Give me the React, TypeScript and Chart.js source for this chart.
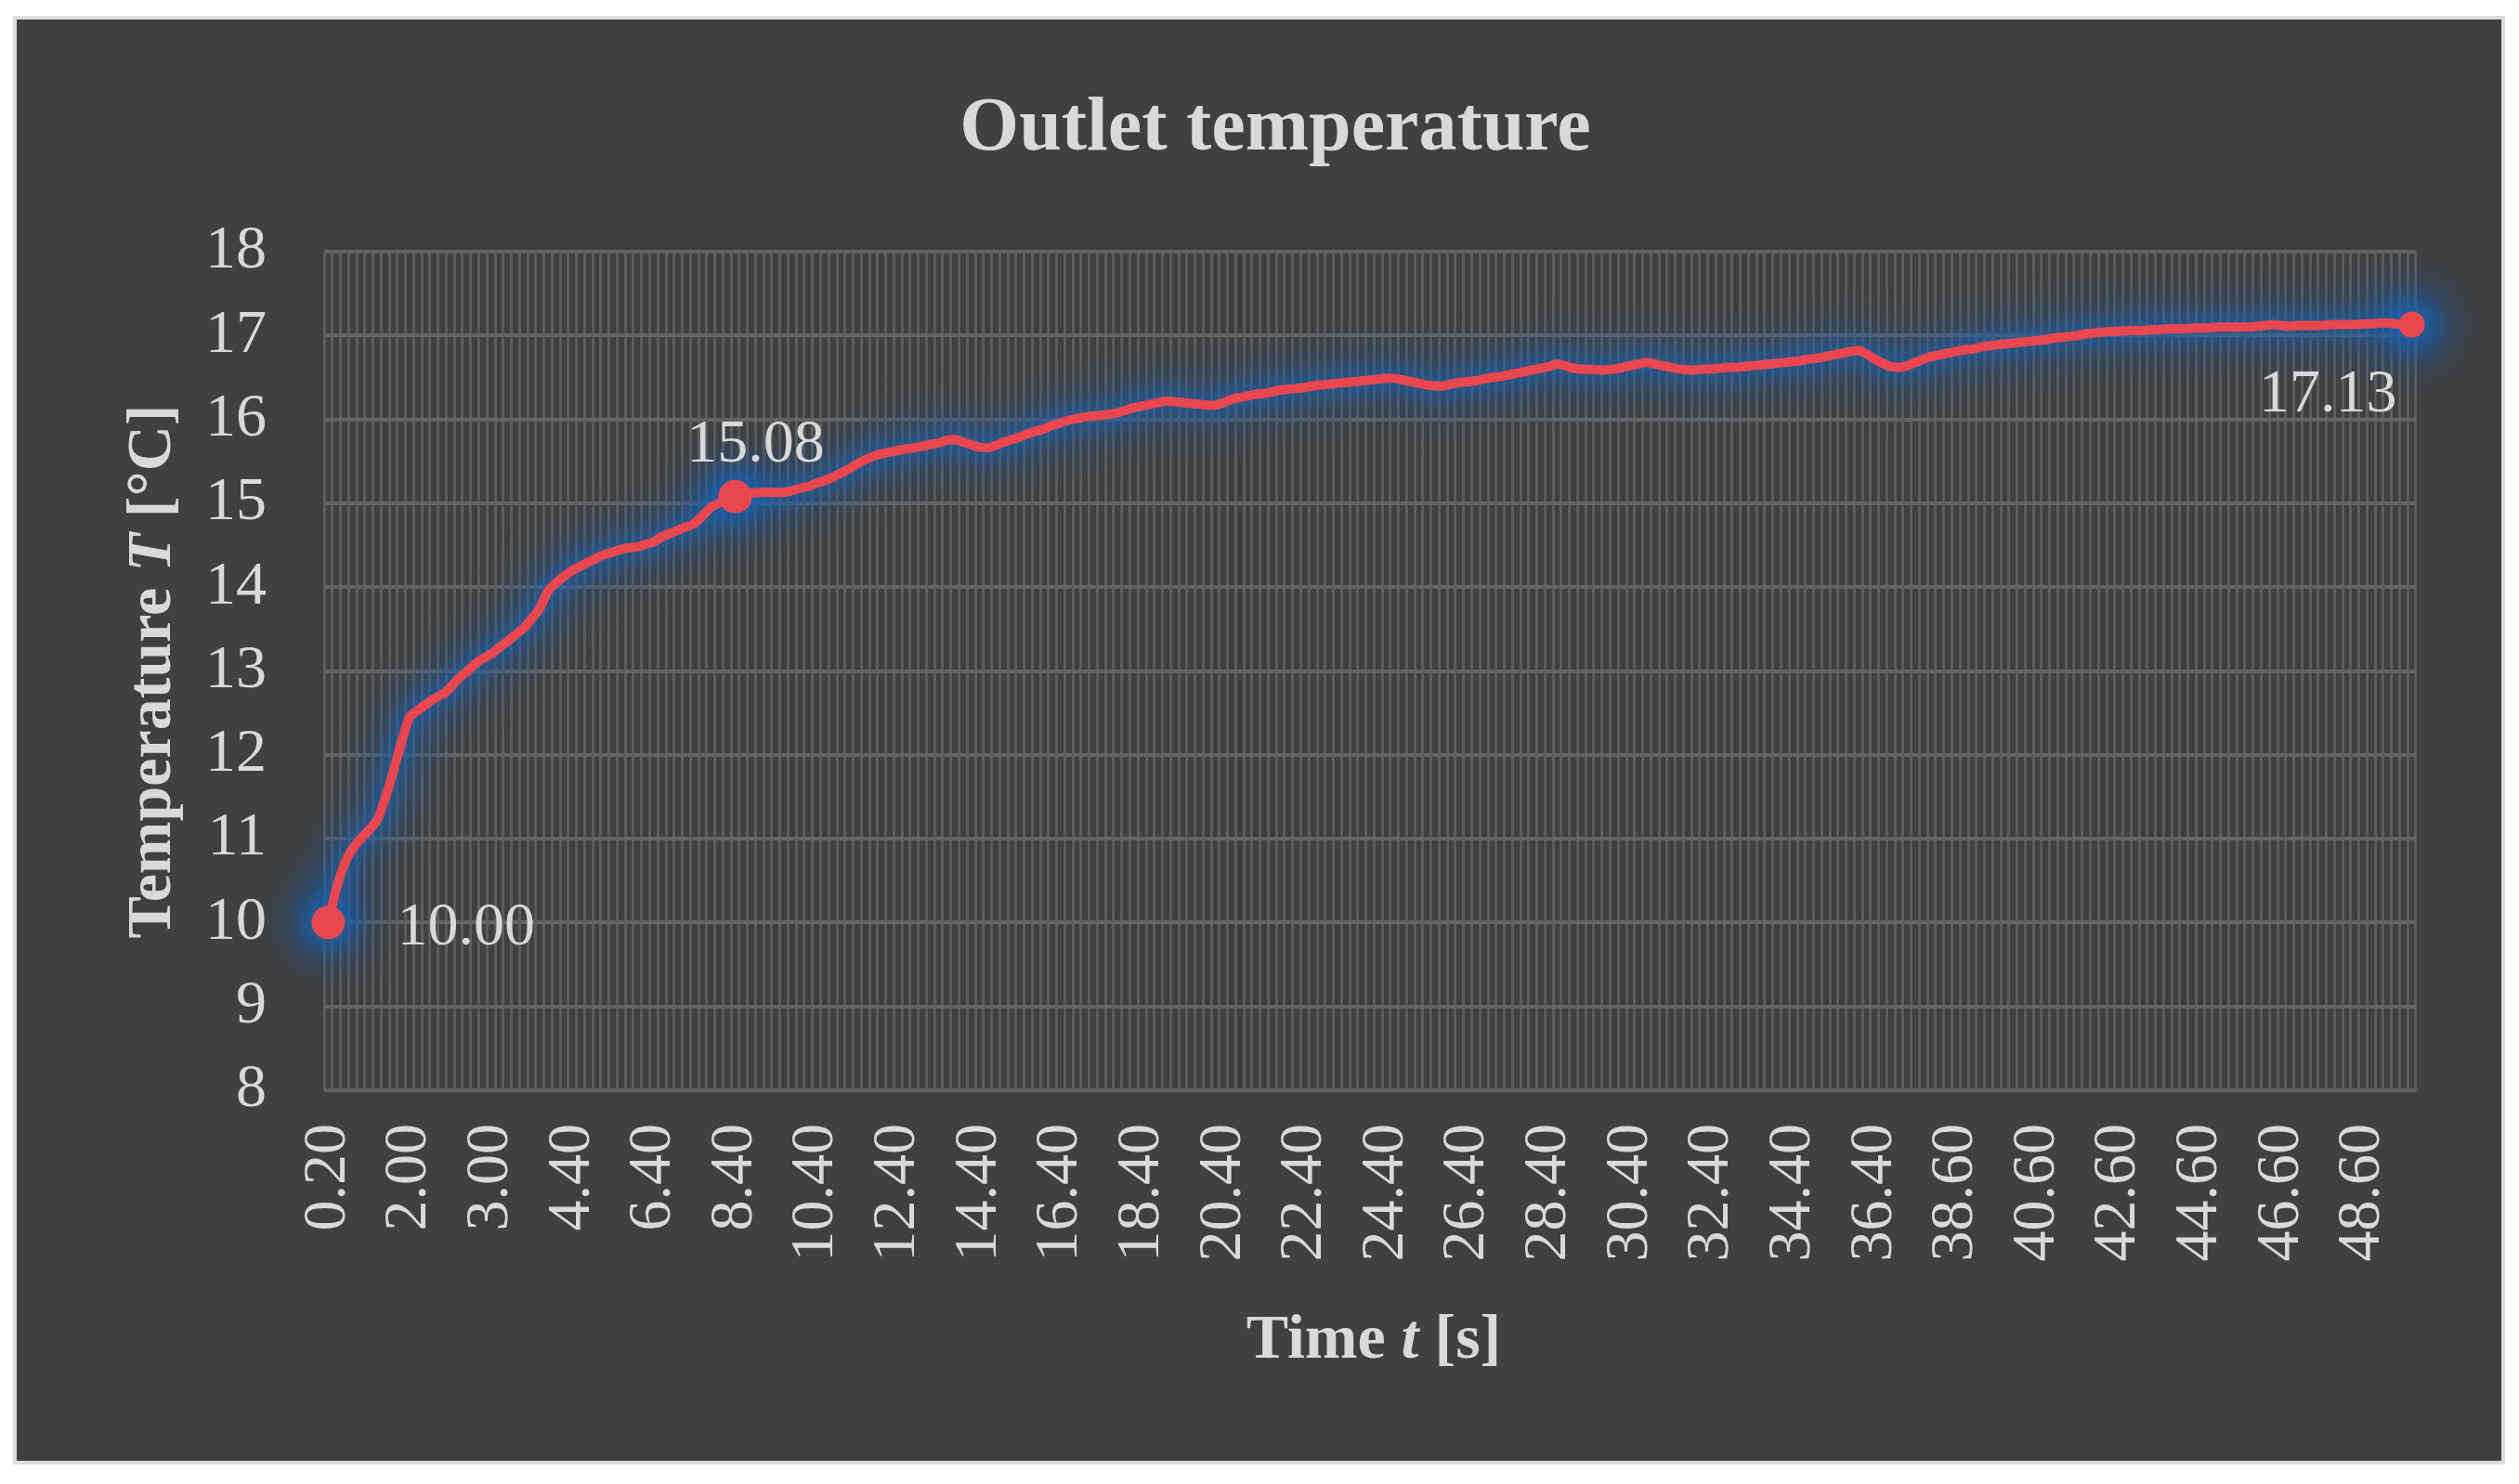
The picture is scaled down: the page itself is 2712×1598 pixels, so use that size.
import { useEffect, useRef } from "react";
import { Chart, registerables } from "chart.js";

Chart.register(...registerables);

// time stamps [s], one per sample (irregular steps at the start and around 38 s)
const times = [
  0.2, 0.4, 0.6, 0.8, 1.0, 1.2, 1.4, 1.6, 1.8, 1.9,
  2.0, 2.1, 2.2, 2.3, 2.4, 2.5, 2.6, 2.7, 2.8, 2.9,
  3.0, 3.2, 3.4, 3.5, 3.6, 3.8, 3.9, 4.0, 4.2, 4.3,
  4.4, 4.6, 4.8, 5.0, 5.2, 5.4, 5.6, 5.8, 6.0, 6.2,
  6.4, 6.6, 6.8, 7.0, 7.2, 7.4, 7.6, 7.8, 8.0, 8.2,
  8.4, 8.6, 8.8, 9.0, 9.2, 9.4, 9.6, 9.8, 10.0, 10.2,
  10.4, 10.6, 10.8, 11.0, 11.2, 11.4, 11.6, 11.8, 12.0, 12.2,
  12.4, 12.6, 12.8, 13.0, 13.2, 13.4, 13.6, 13.8, 14.0, 14.2,
  14.4, 14.6, 14.8, 15.0, 15.2, 15.4, 15.6, 15.8, 16.0, 16.2,
  16.4, 16.6, 16.8, 17.0, 17.2, 17.4, 17.6, 17.8, 18.0, 18.2,
  18.4, 18.6, 18.8, 19.0, 19.2, 19.4, 19.6, 19.8, 20.0, 20.2,
  20.4, 20.6, 20.8, 21.0, 21.2, 21.4, 21.6, 21.8, 22.0, 22.2,
  22.4, 22.6, 22.8, 23.0, 23.2, 23.4, 23.6, 23.8, 24.0, 24.2,
  24.4, 24.6, 24.8, 25.0, 25.2, 25.4, 25.6, 25.8, 26.0, 26.2,
  26.4, 26.6, 26.8, 27.0, 27.2, 27.4, 27.6, 27.8, 28.0, 28.2,
  28.4, 28.6, 28.8, 29.0, 29.2, 29.4, 29.6, 29.8, 30.0, 30.2,
  30.4, 30.6, 30.8, 31.0, 31.2, 31.4, 31.6, 31.8, 32.0, 32.2,
  32.4, 32.6, 32.8, 33.0, 33.2, 33.4, 33.6, 33.8, 34.0, 34.2,
  34.4, 34.6, 34.8, 35.0, 35.2, 35.4, 35.6, 35.8, 36.0, 36.2,
  36.4, 36.6, 36.8, 37.0, 37.2, 37.4, 37.6, 37.8, 38.2, 38.4,
  38.6, 38.8, 39.0, 39.2, 39.4, 39.6, 39.8, 40.0, 40.2, 40.4,
  40.6, 40.8, 41.0, 41.2, 41.4, 41.6, 41.8, 42.0, 42.2, 42.4,
  42.6, 42.8, 43.0, 43.2, 43.4, 43.6, 43.8, 44.0, 44.2, 44.4,
  44.6, 44.8, 45.0, 45.2, 45.4, 45.6, 45.8, 46.0, 46.2, 46.4,
  46.6, 46.8, 47.0, 47.2, 47.4, 47.6, 47.8, 48.0, 48.2, 48.4,
  48.6, 48.8, 49.0, 49.2, 49.4, 49.6, 49.8,
];

// outlet temperature [°C]
const temperature = [
  10.00, 10.40, 10.70, 10.88, 11.00, 11.10, 11.22, 11.48, 11.80, 12.15,
  12.45, 12.53, 12.60, 12.67, 12.72, 12.80, 12.91, 12.99, 13.08, 13.15,
  13.20, 13.28, 13.35, 13.43, 13.51, 13.62, 13.75, 13.95, 14.05, 14.13,
  14.20, 14.25, 14.30, 14.35, 14.39, 14.42, 14.45, 14.47, 14.48, 14.51,
  14.54, 14.60, 14.64, 14.68, 14.72, 14.76, 14.85, 14.95, 15.00, 15.04,
  15.08, 15.10, 15.12, 15.13, 15.13, 15.13, 15.13, 15.15, 15.18, 15.20,
  15.24, 15.27, 15.31, 15.36, 15.41, 15.47, 15.52, 15.56, 15.59, 15.61,
  15.63, 15.65, 15.66, 15.68, 15.70, 15.72, 15.75, 15.76, 15.73, 15.70,
  15.67, 15.66, 15.69, 15.73, 15.76, 15.79, 15.83, 15.86, 15.89, 15.93,
  15.96, 15.99, 16.01, 16.03, 16.04, 16.05, 16.06, 16.08, 16.11, 16.14,
  16.16, 16.18, 16.20, 16.22, 16.21, 16.20, 16.19, 16.18, 16.17, 16.17,
  16.20, 16.24, 16.26, 16.28, 16.30, 16.31, 16.33, 16.35, 16.36, 16.37,
  16.38, 16.40, 16.41, 16.42, 16.43, 16.44, 16.45, 16.46, 16.47, 16.48,
  16.49, 16.49, 16.47, 16.45, 16.43, 16.41, 16.40, 16.40, 16.42, 16.44,
  16.45, 16.46, 16.48, 16.50, 16.51, 16.53, 16.55, 16.57, 16.59, 16.61,
  16.63, 16.66, 16.64, 16.61, 16.60, 16.60, 16.59, 16.59, 16.60, 16.62,
  16.64, 16.66, 16.68, 16.66, 16.64, 16.62, 16.60, 16.59, 16.59, 16.60,
  16.60, 16.61, 16.62, 16.62, 16.63, 16.64, 16.65, 16.66, 16.67, 16.68,
  16.69, 16.70, 16.72, 16.73, 16.75, 16.77, 16.79, 16.81, 16.82, 16.78,
  16.72, 16.67, 16.63, 16.62, 16.64, 16.68, 16.72, 16.75, 16.77, 16.79,
  16.81, 16.83, 16.84, 16.86, 16.88, 16.89, 16.90, 16.91, 16.92, 16.93,
  16.94, 16.95, 16.97, 16.98, 16.99, 17.00, 17.02, 17.03, 17.04, 17.05,
  17.05, 17.06, 17.06, 17.06, 17.07, 17.07, 17.08, 17.08, 17.08, 17.09,
  17.09, 17.09, 17.10, 17.10, 17.10, 17.10, 17.10, 17.11, 17.12, 17.13,
  17.12, 17.11, 17.12, 17.12, 17.12, 17.12, 17.13, 17.13, 17.13, 17.13,
  17.14, 17.14, 17.15, 17.15, 17.14, 17.13, 17.13,
];

// samples that carry a marker and a value label
const labelledPoints = [0, 50, 256];
const labelEvery = 10;

const SERIF = '"Liberation Serif", "Times New Roman", serif';
const TEXT = "#d9d9d9";
const RED = "#e8474f";

type Part = { text: string; font: string };

function drawRich(ctx: CanvasRenderingContext2D, parts: Part[], x: number, y: number, rotation: number) {
  ctx.save();
  ctx.translate(x, y);
  ctx.rotate(rotation);
  let total = 0;
  for (const p of parts) {
    ctx.font = p.font;
    total += ctx.measureText(p.text).width;
  }
  let cx = -total / 2;
  ctx.textAlign = "left";
  ctx.textBaseline = "alphabetic";
  ctx.fillStyle = TEXT;
  for (const p of parts) {
    ctx.font = p.font;
    ctx.fillText(p.text, cx, 0);
    cx += ctx.measureText(p.text).width;
  }
  ctx.restore();
}

const panelPlugin = {
  id: "panel",
  beforeDraw(chart: Chart) {
    const { ctx, width, height } = chart;
    ctx.save();
    ctx.fillStyle = "#ffffff";
    ctx.fillRect(0, 0, width, height);
    ctx.fillStyle = "#dcdcdc";
    ctx.fillRect(14, 17, 2683, 1560);
    ctx.fillStyle = "#404040";
    ctx.fillRect(18, 21, 2675, 1552);
    ctx.restore();
  },
};

// soft blue halo under the series, traced through the points the line controller placed
const glowPlugin = {
  id: "glow",
  beforeDatasetsDraw(chart: Chart) {
    const ctx = chart.ctx;
    const pts = chart.getDatasetMeta(0).data as any[];
    const trace = () => {
      ctx.beginPath();
      pts.forEach((p, i) => (i === 0 ? ctx.moveTo(p.x, p.y) : ctx.lineTo(p.x, p.y)));
    };
    const layers = [
      { blur: 22, width: 48, color: "rgba(24, 90, 165, 0.55)", dot: 42 },
      { blur: 9, width: 22, color: "rgba(28, 100, 180, 0.5)", dot: 28 },
    ];
    ctx.save();
    ctx.lineJoin = "round";
    ctx.lineCap = "round";
    for (const l of layers) {
      ctx.filter = `blur(${l.blur}px)`;
      ctx.strokeStyle = l.color;
      ctx.fillStyle = l.color;
      ctx.lineWidth = l.width;
      trace();
      ctx.stroke();
      for (const i of labelledPoints) {
        ctx.beginPath();
        ctx.arc(pts[i].x, pts[i].y, l.dot, 0, Math.PI * 2);
        ctx.fill();
      }
    }
    ctx.restore();
  },
};

const textPlugin = {
  id: "texts",
  afterDraw(chart: Chart) {
    const ctx = chart.ctx;
    const bold = `bold 68px ${SERIF}`;
    const boldItalic = `italic bold 68px ${SERIF}`;
    drawRich(ctx, [{ text: "Outlet temperature", font: `bold 82px ${SERIF}` }], 1373, 161, 0);
    drawRich(
      ctx,
      [
        { text: "Temperature ", font: bold },
        { text: "T", font: boldItalic },
        { text: " [°C]", font: bold },
      ],
      183,
      723,
      -Math.PI / 2
    );
    drawRich(
      ctx,
      [
        { text: "Time ", font: bold },
        { text: "t", font: boldItalic },
        { text: " [s]", font: bold },
      ],
      1479,
      1462,
      0
    );

    const meta = chart.getDatasetMeta(0);
    ctx.save();
    ctx.font = `66px ${SERIF}`;
    ctx.fillStyle = TEXT;
    ctx.textBaseline = "alphabetic";
    const [first, mid, last] = labelledPoints;
    const p0 = meta.data[first];
    ctx.textAlign = "left";
    ctx.fillText(temperature[first].toFixed(2), p0.x + 74, p0.y + 24);
    const p1 = meta.data[mid];
    ctx.textAlign = "center";
    ctx.fillText(temperature[mid].toFixed(2), p1.x + 22, p1.y - 38);
    const p2 = meta.data[last];
    ctx.textAlign = "right";
    ctx.fillText(temperature[last].toFixed(2), p2.x - 16, p2.y + 93);
    ctx.restore();
  },
};

const App = () => {
  const canvasRef = useRef<HTMLCanvasElement>(null);

  useEffect(() => {
    if (!canvasRef.current) return;
    const ctx = canvasRef.current.getContext("2d");
    if (!ctx) return;

    const chart = new Chart(ctx, {
      type: "line",
      data: {
        labels: times.map((t) => t.toFixed(2)),
        datasets: [
          {
            label: "Outlet temperature",
            data: temperature,
            borderColor: RED,
            borderWidth: 10,
            tension: 0.2,
            clip: false,
            pointRadius: (c: any) =>
              c.dataIndex === labelledPoints[2] ? 14 : labelledPoints.includes(c.dataIndex) ? 18 : 0,
            pointBackgroundColor: RED,
            pointBorderWidth: 0,
          },
        ],
      },
      options: {
        animation: false,
        responsive: true,
        maintainAspectRatio: false,
        layout: { padding: { top: 271, right: 101, bottom: 0, left: 0 } },
        plugins: {
          legend: { display: false },
          tooltip: { enabled: false },
          title: { display: false },
        },
        scales: {
          x: {
            type: "category",
            offset: true,
            grid: { color: "#5c5c5c", lineWidth: 3, offset: true, drawTicks: false },
            border: { display: false },
            ticks: {
              autoSkip: false,
              minRotation: 90,
              maxRotation: 90,
              padding: 36,
              color: TEXT,
              font: { family: SERIF, size: 66 },
              callback: (_v: any, i: number) => (i % labelEvery === 0 ? times[i].toFixed(2) : ""),
            },
            afterFit: (scale: any) => {
              scale.height = 424;
            },
          },
          y: {
            min: 8,
            max: 18,
            grid: { color: "#636363", lineWidth: 4, drawTicks: false },
            border: { display: false },
            ticks: {
              stepSize: 1,
              padding: 62,
              color: TEXT,
              font: { family: SERIF, size: 66 },
            },
            afterFit: (scale: any) => {
              scale.width = 349;
            },
          },
        },
      },
      plugins: [panelPlugin, glowPlugin, textPlugin],
    });

    return () => chart.destroy();
  }, []);

  return (
    <div style={{ position: "absolute", left: 0, top: 0, width: 2712, height: 1598 }}>
      <canvas ref={canvasRef}></canvas>
    </div>
  );
};

export default App;
